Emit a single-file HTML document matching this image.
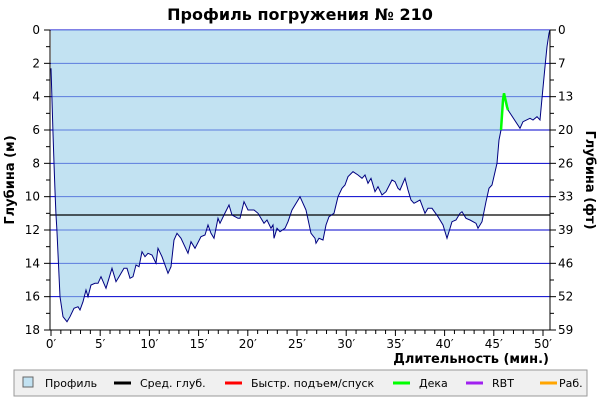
<!DOCTYPE html>
<html><head><meta charset="utf-8"><style>
body{margin:0;background:#fff;font-family:"Liberation Sans","DejaVu Sans",sans-serif}
</style></head><body>
<svg id="c" width="600" height="400" xmlns="http://www.w3.org/2000/svg" font-family="DejaVu Sans, Liberation Sans, sans-serif">
<text x="300" y="20" text-anchor="middle" font-size="16" font-weight="bold">Профиль погружения № 210</text>
<g id="grid"></g><g id="area"></g><g id="top"></g><g id="axes"></g>
<text transform="translate(14,180) rotate(-90)" text-anchor="middle" font-size="13" font-weight="bold">Глубина (м)</text>
<text transform="translate(586,180) rotate(90)" text-anchor="middle" font-size="13" font-weight="bold">Глубина (фт)</text>
<text x="549" y="363" text-anchor="end" font-size="13" font-weight="bold">Длительность (мин.)</text>
<g font-size="11">
<rect x="14" y="370" width="573" height="26" fill="#f0f0f0" stroke="#999"/>
<rect x="23" y="377" width="10" height="10" fill="#c2e2f2" stroke="#666"/>
<text x="45" y="387">Профиль</text>
<line x1="114" y1="383" x2="131" y2="383" stroke="#000" stroke-width="3"/>
<text x="140" y="387">Сред. глуб.</text>
<line x1="225" y1="383" x2="242" y2="383" stroke="#f00" stroke-width="3"/>
<text x="251" y="387">Быстр. подъем/спуск</text>
<line x1="393" y1="383" x2="410" y2="383" stroke="#0f0" stroke-width="3"/>
<text x="419" y="387">Дека</text>
<line x1="466" y1="383" x2="483" y2="383" stroke="#a020f0" stroke-width="3"/>
<text x="492" y="387">RBT</text>
<line x1="540" y1="383" x2="557" y2="383" stroke="#ffa500" stroke-width="3"/>
<text x="559" y="387">Раб.</text>
</g>
</svg>
<script>
const times=[0,0.1,0.2,0.3,0.4,0.5,0.6,0.91,1.22,1.63,1.93,2.34,2.74,2.95,3.25,3.56,3.76,4.07,4.47,4.78,5.08,5.59,6.2,6.61,6.91,7.42,7.72,8.03,8.33,8.64,8.94,9.25,9.55,9.86,10.26,10.67,10.87,11.28,11.89,12.2,12.5,12.8,13.21,13.92,14.23,14.63,15.24,15.65,15.96,16.26,16.57,16.97,17.17,17.58,18.09,18.39,19.0,19.21,19.61,20.02,20.63,21.04,21.65,21.95,22.36,22.56,22.66,22.97,23.27,23.78,24.09,24.49,25.0,25.3,25.91,26.42,26.83,26.93,27.24,27.64,27.95,28.25,28.76,29.17,29.57,29.88,30.18,30.69,31.2,31.61,31.91,32.22,32.52,32.93,33.23,33.64,34.04,34.65,34.96,35.26,35.47,35.98,36.28,36.59,36.89,37.2,37.5,38.01,38.31,38.72,39.33,39.84,40.24,40.75,41.16,41.57,41.77,42.17,42.58,43.19,43.39,43.8,44.21,44.51,44.82,45.33,45.53,45.73,45.93,46.04,46.34,46.44,47.66,47.97,48.68,48.98,49.39,49.7,49.9,50.2,50.41,50.61,50.7];
const depths=[2.3,4.2,6.2,8,9.5,11,12,16,17.2,17.5,17.2,16.7,16.6,16.8,16.3,15.6,16.0,15.3,15.2,15.2,14.8,15.5,14.3,15.1,14.8,14.3,14.3,14.9,14.8,14.1,14.2,13.3,13.6,13.4,13.5,14.0,13.1,13.6,14.6,14.2,12.6,12.2,12.5,13.4,12.7,13.1,12.4,12.3,11.7,12.2,12.5,11.3,11.6,11.1,10.5,11.1,11.3,11.3,10.3,10.8,10.8,11.0,11.6,11.4,11.9,11.7,12.5,11.9,12.1,11.9,11.5,10.8,10.3,10.0,10.8,12.2,12.5,12.8,12.5,12.6,11.7,11.2,11.0,10.0,9.5,9.3,8.8,8.5,8.7,8.9,8.7,9.2,8.9,9.7,9.4,9.9,9.7,9.0,9.1,9.5,9.6,8.9,9.6,10.2,10.4,10.3,10.2,11.0,10.7,10.7,11.2,11.7,12.5,11.5,11.4,11.0,10.9,11.3,11.4,11.6,11.9,11.5,10.3,9.5,9.3,8.0,6.6,6.0,4.2,3.8,4.6,4.8,5.9,5.5,5.3,5.4,5.2,5.4,4.1,2.2,1.0,0.2,0];
const decoStart=45.73, decoEnd=46.44;
const avgDepth=11.1;
const yTicks=[0,2,4,6,8,10,12,14,16,18];
const ftTicks=["0","7","13","20","26","33","39","46","52","59"];
const xTicks=[0,5,10,15,20,25,30,35,40,45,50];
const NS="http://www.w3.org/2000/svg";
const X=t=>51+t*9.84, Y=d=>30+d*300/18;
function mk(tag,attrs,parent){const e=document.createElementNS(NS,tag);for(const k in attrs)e.setAttribute(k,attrs[k]);document.getElementById(parent).appendChild(e);return e;}
yTicks.forEach(d=>{const l=mk('line',{x1:50,x2:550,y1:Y(d),y2:Y(d),stroke:'#0000cd','stroke-width':1},'grid');

});
let pts=times.map((t,i)=>X(t).toFixed(1)+','+Y(depths[i]).toFixed(1));
const poly=mk('polygon',{points:X(0)+','+Y(0)+' '+pts.join(' ')+' '+X(times[times.length-1])+','+Y(0),fill:'rgb(153,207,233)','fill-opacity':0.6},'area');


const al=mk('line',{x1:50,x2:550,y1:Y(avgDepth),y2:Y(avgDepth),stroke:'#000','stroke-width':1.3},'top');


const ln=mk('polyline',{points:pts.join(' '),fill:'none',stroke:'#000080','stroke-width':1},'top');


const dp=times.map((t,i)=>[t,depths[i]]).filter(p=>p[0]>=decoStart&&p[0]<=decoEnd).map(p=>X(p[0]).toFixed(1)+','+Y(p[1]).toFixed(1));
const dl=mk('polyline',{points:dp.join(' '),fill:'none',stroke:'#00ff00','stroke-width':2.5},'top');


mk('line',{x1:50,x2:50,y1:30,y2:330,stroke:'#000'},'axes');
mk('line',{x1:550,x2:550,y1:30,y2:330,stroke:'#000'},'axes');
mk('line',{x1:50,x2:550,y1:330,y2:330,stroke:'#000'},'axes');
for(let d=0;d<=18;d++){mk('line',{x1:d%2?46:44,x2:50,y1:Y(d),y2:Y(d),stroke:'#000'},'axes');mk('line',{x1:550,x2:d%2?554:556,y1:Y(d),y2:Y(d),stroke:'#000'},'axes');}
for(let t=0;t<=50;t++)mk('line',{x1:X(t),x2:X(t),y1:330,y2:t%5?334:336,stroke:'#000'},'axes');
yTicks.forEach((d,i)=>{const a=mk('text',{x:40,y:Y(d)+4,'text-anchor':'end','font-size':12},'axes');a.textContent=d;


const b=mk('text',{x:558,y:Y(d)+4,'font-size':12},'axes');b.textContent=ftTicks[i];

});
xTicks.forEach(t=>{const a=mk('text',{x:X(t),y:348,'text-anchor':'middle','font-size':12},'axes');a.textContent=t+'′';

});
</script>
</body></html>
